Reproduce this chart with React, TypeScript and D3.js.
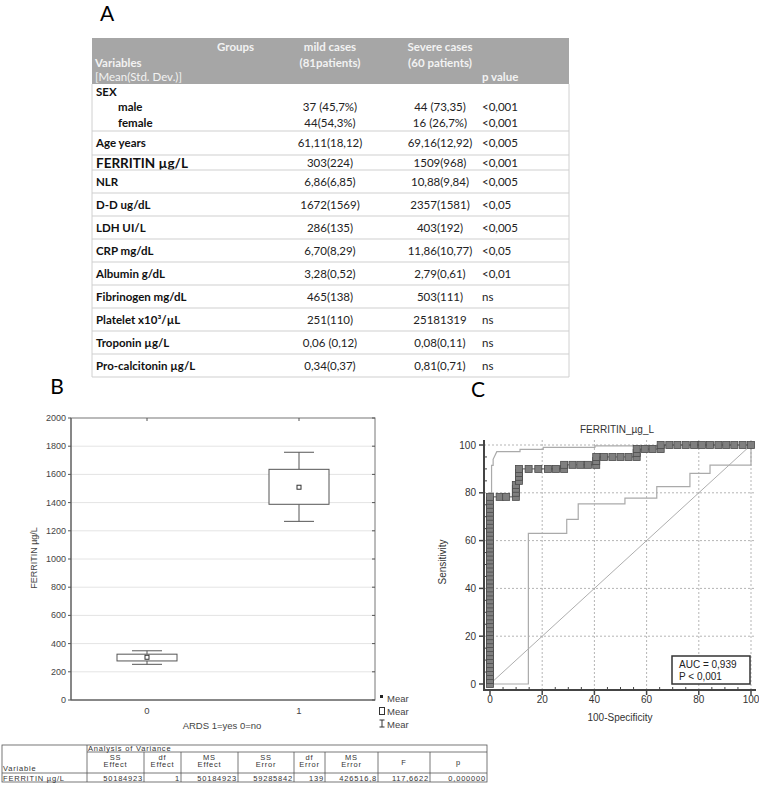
import React from 'react';
import * as d3 from 'd3';

// ---------- Panel A data ----------
const tableVariables = ['SEX', 'male', 'female', 'Age years', 'FERRITIN  µg/L', 'NLR', 'D-D ug/dL', 'LDH UI/L', 'CRP  mg/dL', 'Albumin g/dL', 'Fibrinogen  mg/dL', 'Platelet  x10³/µL', 'Troponin µg/L', 'Pro-calcitonin µg/L'];
const mildValues = ['', '37 (45,7%)', '44(54,3%)', '61,11(18,12)', '303(224)', '6,86(6,85)', '1672(1569)', '286(135)', '6,70(8,29)', '3,28(0,52)', '465(138)', '251(110)', '0,06 (0,12)', '0,34(0,37)'];
const severeValues = ['', '44 (73,35)', '16 (26,7%)', '69,16(12,92)', '1509(968)', '10,88(9,84)', '2357(1581)', '403(192)', '11,86(10,77)', '2,79(0,61)', '503(111)', '25181319', '0,08(0,11)', '0,81(0,71)'];
const pValues = ['', '<0,001', '<0,001', '<0,005', '<0,001', '<0,005', '<0,05', '<0,005', '<0,05', '<0,01', 'ns', 'ns', 'ns', 'ns'];

// ---------- Panel B data ----------
const boxGroups = [0, 1];
const boxMeans = [303, 1509];
const boxLow = [277, 1388];
const boxHigh = [325, 1636];
const whiskerLow = [253, 1267];
const whiskerHigh = [349, 1757];
const boxTicks = [0, 200, 400, 600, 800, 1000, 1200, 1400, 1600, 1800, 2000];

const anovaHeaders = [['SS', 'Effect'], ['df', 'Effect'], ['MS', 'Effect'], ['SS', 'Error'], ['df', 'Error'], ['MS', 'Error'], ['F'], ['p']];
const anovaValues = ['50184923', '1', '50184923', '59285842', '139', '426516,8', '117,6622', '0,000000'];

// ---------- Panel C data ----------
const rocFpr = [
  0, 0, 0, 0, 0, 0, 0, 0, 0, 0, 0, 0, 0, 0, 0, 0, 0, 0, 0, 0, 0, 0, 0, 0, 0, 0, 0, 0, 0, 0, 0, 0, 0, 0, 0, 0, 0, 0, 0, 0, 0, 0, 0, 0, 0, 0, 0, 0,
  3.7, 6.2, 9.9, 9.9, 9.9, 9.9, 11.1, 11.1, 11.1, 11.1,
  14.8, 18.5, 22.2, 25.3, 28.4, 28.4, 31.6, 34.6, 37.5, 40.7, 40.7, 40.7,
  43.7, 46.9, 50.0, 53.1, 56.2, 56.2, 56.2, 59.3, 62.3, 65.4, 65.4,
  68.7, 71.8, 75.0, 78.2, 81.2, 84.3, 87.5, 90.5, 93.6, 96.8, 100,
];
const rocTpr = [
  0, 1.7, 3.3, 5.0, 6.7, 8.3, 10.0, 11.7, 13.3, 15.0, 16.7, 18.3, 20.0, 21.7, 23.3, 25.0, 26.7, 28.3, 30.0, 31.7, 33.3, 35.0, 36.7, 38.3,
  40.0, 41.7, 43.3, 45.0, 46.7, 48.3, 50.0, 51.7, 53.3, 55.0, 56.7, 58.3, 60.0, 61.7, 63.3, 65.0, 66.7, 68.3, 70.0, 71.7, 73.3, 75.0, 76.7, 78.3,
  78.3, 78.3, 78.3, 80.0, 81.7, 83.3, 85.0, 86.7, 88.3, 90.0,
  90.0, 90.0, 90.0, 90.0, 90.0, 91.7, 91.7, 91.7, 91.7, 91.7, 93.3, 95.0,
  95.0, 95.0, 95.0, 95.0, 95.0, 96.7, 98.3, 98.3, 98.3, 98.3, 100,
  100, 100, 100, 100, 100, 100, 100, 100, 100, 100, 100,
];
const ciUpperX = [0, 0, 0.6, 0.6, 1.2, 1.2, 2.6, 11.5, 11.5, 20.4, 20.4, 40.2, 40.2, 65, 65, 100];
const ciUpperY = [0, 80, 80, 91.5, 91.5, 94, 97.2, 97.2, 98.2, 98.2, 99.0, 99.0, 99.6, 99.6, 100, 100];
const ciLowerX = [0, 14.7, 14.7, 29.4, 29.4, 33.8, 33.8, 51.7, 51.7, 63.9, 63.9, 76.6, 76.6, 84.3, 84.3, 100, 100];
const ciLowerY = [0, 0, 63, 63, 68.9, 68.9, 75.4, 75.4, 77.8, 77.8, 82.6, 82.6, 88.1, 88.1, 91.6, 91.6, 100];
const rocTicks = [0, 20, 40, 60, 80, 100];

const CAL = 'Lato, "Open Sans", sans-serif';
const ARIAL = '"Liberation Sans", Arial, sans-serif';

function PanelA() {
  const x0 = 92, x1 = 569;
  const rowTops = [84, 99, 115, 131, 155, 170, 193, 216, 239, 262, 285, 308, 331, 354];
  const rowH = [15, 16, 16, 24, 15, 23, 23, 23, 23, 23, 23, 23, 23, 23];
  const sepAfter = [false, false, true, true, true, true, true, true, true, true, true, true, true, true];
  const bottom = rowTops[rowTops.length - 1] + rowH[rowH.length - 1];
  const hdr = '#f2f2f2';
  const fs = 11.5;
  return (
    <g>
      <text x={107} y={21} fontFamily={CAL} fontSize={21} fill="#000" textAnchor="middle">A</text>
      <rect x={x0} y={38} width={x1 - x0} height={46} fill="#a6a6a6" />
      <text x={217} y={51} fontFamily={CAL} fontWeight="bold" fontSize={fs} fill={hdr}>Groups</text>
      <text x={330} y={51} fontFamily={CAL} fontWeight="bold" fontSize={fs} fill={hdr} textAnchor="middle">mild cases</text>
      <text x={330} y={67} fontFamily={CAL} fontWeight="bold" fontSize={fs} fill={hdr} textAnchor="middle">(81patients)</text>
      <text x={440} y={51} fontFamily={CAL} fontWeight="bold" fontSize={fs} fill={hdr} textAnchor="middle">Severe cases</text>
      <text x={440} y={67} fontFamily={CAL} fontWeight="bold" fontSize={fs} fill={hdr} textAnchor="middle">(60 patients)</text>
      <text x={95} y={67} fontFamily={CAL} fontWeight="bold" fontSize={fs} fill={hdr}>Variables</text>
      <text x={95} y={81} fontFamily={CAL} fontSize={fs} fill={hdr}>[Mean(Std. Dev.)]</text>
      <text x={482} y={81} fontFamily={CAL} fontWeight="bold" fontSize={fs} fill={hdr}>p value</text>
      <line x1={x0} x2={x0} y1={84} y2={bottom} stroke="#d0d0d0" />
      <line x1={x1} x2={x1} y1={84} y2={bottom} stroke="#d0d0d0" />
      {tableVariables.map((v, i) => {
        const top = rowTops[i];
        const base = top + rowH[i] / 2 + 4;
        const indent = i === 1 || i === 2;
        const big = i === 4;
        return (
          <g key={v}>
            <text x={indent ? 118 : 96} y={base + (big ? 1 : 0)} fontFamily={CAL} fontWeight="bold" fontSize={big ? 13.5 : fs} fill="#111">{v}</text>
            <text x={330} y={base} fontFamily={CAL} fontSize={fs} fill="#222" textAnchor="middle">{mildValues[i]}</text>
            <text x={440} y={base} fontFamily={CAL} fontSize={fs} fill="#222" textAnchor="middle">{severeValues[i]}</text>
            <text x={482} y={base} fontFamily={CAL} fontSize={fs} fill="#222">{pValues[i]}</text>
            {sepAfter[i] && <line x1={x0} x2={x1} y1={top + rowH[i]} y2={top + rowH[i]} stroke="#cfcfcf" />}
          </g>
        );
      })}
    </g>
  );
}

function PanelB() {
  const y = d3.scaleLinear().domain([0, 2000]).range([700, 418]);
  const x = d3.scaleLinear().domain([-0.5, 1.5]).range([71, 375]);
  const boxW = 60, capW = 30;
  const cols = [2, 87, 144, 181, 238, 294, 325, 378, 430, 487];
  const tT = 745, r1 = 752, r2 = 773, tB = 782;
  const af = 7.5, ls = 0.8;
  return (
    <g>
      <text x={57} y={394} fontFamily={CAL} fontSize={21} fill="#000" textAnchor="middle">B</text>
      {boxTicks.slice(1, -1).map(t => (
        <line key={t} x1={x(-0.5)} x2={x(1.5)} y1={y(t)} y2={y(t)} stroke="#e4e4e4" />
      ))}
      <rect x={71} y={418} width={304} height={282} fill="none" stroke="#777" />
      <line x1={71} x2={71} y1={418} y2={700} stroke="#555" />
      <line x1={71} x2={375} y1={700} y2={700} stroke="#555" />
      {boxTicks.map(t => (
        <g key={t}>
          <line x1={68} x2={71} y1={y(t)} y2={y(t)} stroke="#555" />
          <line x1={372} x2={375} y1={y(t)} y2={y(t)} stroke="#555" />
          <text x={66} y={y(t) + 3} fontFamily={ARIAL} fontSize={9} fill="#444" textAnchor="end">{t}</text>
        </g>
      ))}
      {boxGroups.map(g => (
        <g key={g}>
          <line x1={x(g)} x2={x(g)} y1={418} y2={421} stroke="#555" />
          <text x={x(g)} y={714} fontFamily={ARIAL} fontSize={9.5} fill="#444" textAnchor="middle">{g}</text>
        </g>
      ))}
      {boxGroups.map((g, i) => (
        <g key={'b' + g} stroke="#555" fill="none">
          <line x1={x(g)} x2={x(g)} y1={y(whiskerHigh[i])} y2={y(boxHigh[i])} />
          <line x1={x(g)} x2={x(g)} y1={y(boxLow[i])} y2={y(whiskerLow[i])} />
          <line x1={x(g) - capW / 2} x2={x(g) + capW / 2} y1={y(whiskerHigh[i])} y2={y(whiskerHigh[i])} />
          <line x1={x(g) - capW / 2} x2={x(g) + capW / 2} y1={y(whiskerLow[i])} y2={y(whiskerLow[i])} />
          <rect x={x(g) - boxW / 2} y={y(boxHigh[i])} width={boxW} height={y(boxLow[i]) - y(boxHigh[i])} fill="#fff" />
          <rect x={x(g) - 2} y={y(boxMeans[i]) - 2} width={4} height={4} fill="#fff" stroke="#333" />
        </g>
      ))}
      <text transform="translate(37,558) rotate(-90)" fontFamily={ARIAL} fontSize={9} fill="#444" textAnchor="middle">FERRITIN µg/L</text>
      <text x={222} y={729} fontFamily={ARIAL} fontSize={9.5} fill="#444" textAnchor="middle">ARDS 1=yes 0=no</text>
      {/* legend */}
      <rect x={380} y={695} width={3} height={3} fill="#222" />
      <text x={387} y={702} fontFamily={ARIAL} fontSize={9.5} fill="#444">Mear</text>
      <rect x={379.5} y={707.5} width={5} height={7} fill="none" stroke="#333" />
      <text x={387} y={715} fontFamily={ARIAL} fontSize={9.5} fill="#444">Mear</text>
      <g stroke="#333">
        <line x1={382} x2={382} y1={720} y2={727} />
        <line x1={379.5} x2={384.5} y1={720} y2={720} />
        <line x1={379.5} x2={384.5} y1={727} y2={727} />
      </g>
      <text x={387} y={728} fontFamily={ARIAL} fontSize={9.5} fill="#444">Mear</text>

      {/* ANOVA table */}
      <g stroke="#555" strokeWidth={0.8} fill="none">
        <rect x={cols[0]} y={tT} width={cols[cols.length - 1] - cols[0]} height={tB - tT} />
        <line x1={cols[1]} x2={cols[cols.length - 1]} y1={r1} y2={r1} />
        <line x1={cols[0]} x2={cols[cols.length - 1]} y1={r2} y2={r2} />
        <line x1={cols[1]} x2={cols[1]} y1={tT} y2={tB} />
        {cols.slice(2, -1).map(c => <line key={c} x1={c} x2={c} y1={r1} y2={tB} />)}
      </g>
      <g fontFamily={ARIAL} fontSize={af} fill="#333" letterSpacing={ls}>
        <text x={cols[1] + 1} y={r1 - 1}>Analysis of Variance</text>
        <text x={cols[0] + 1} y={r2 - 2}>Variable</text>
        {anovaHeaders.map((h, i) => {
          const cx = (cols[i + 1] + cols[i + 2]) / 2;
          return h.length === 2 ? (
            <g key={i}>
              <text x={cx} y={r1 + 7.5} textAnchor="middle">{h[0]}</text>
              <text x={cx} y={r1 + 15} textAnchor="middle">{h[1]}</text>
            </g>
          ) : (
            <text key={i} x={cx} y={r1 + 13} textAnchor="middle">{h[0]}</text>
          );
        })}
        <text x={cols[0] + 1} y={tB - 1.5}>FERRITIN µg/L</text>
        {anovaValues.map((v, i) => (
          <text key={i} x={cols[i + 2] - 1} y={tB - 1.5} textAnchor="end">{v}</text>
        ))}
      </g>
    </g>
  );
}

function PanelC() {
  const x = d3.scaleLinear().domain([0, 100]).range([490, 751]);
  const y = d3.scaleLinear().domain([0, 100]).range([684, 445]);
  const axX = 484, axY = 690;
  const line = d3.line<[number, number]>().x(d => x(d[0])).y(d => y(d[1]));
  const upper = line(ciUpperX.map((v, i) => [v, ciUpperY[i]]));
  const lower = line(ciLowerX.map((v, i) => [v, ciLowerY[i]]));
  const roc = line(rocFpr.map((v, i) => [v, rocTpr[i]]));
  const minor = d3.range(0, 101, 5).filter(v => v % 20 !== 0);
  const ms = 7;
  return (
    <g>
      <text x={478} y={397} fontFamily={CAL} fontSize={21} fill="#000" textAnchor="middle">C</text>
      <text x={617} y={433} fontFamily={ARIAL} fontSize={10} fill="#333" textAnchor="middle">FERRITIN_µg_L</text>
      {rocTicks.slice(1).map(t => (
        <g key={t} stroke="#b5b5b5" strokeDasharray="2,2">
          <line x1={x(t)} x2={x(t)} y1={440} y2={axY} />
          <line x1={axX} x2={756} y1={y(t)} y2={y(t)} />
        </g>
      ))}
      <line x1={x(0)} y1={y(0)} x2={x(100)} y2={y(100)} stroke="#999" strokeWidth={0.8} />
      <path d={upper || ''} fill="none" stroke="#aaa" strokeWidth={1.2} />
      <path d={lower || ''} fill="none" stroke="#aaa" strokeWidth={1.2} />
      <path d={roc || ''} fill="none" stroke="#555" strokeWidth={1} />
      {rocFpr.map((v, i) => (
        <rect key={i} x={x(v) - ms / 2} y={y(rocTpr[i]) - ms / 2} width={ms} height={ms} fill="#7f7f7f" stroke="#4a4a4a" strokeWidth={0.8} />
      ))}
      <line x1={axX} x2={axX} y1={440} y2={axY + 1} stroke="#444" strokeWidth={2} />
      <line x1={axX - 1} x2={756} y1={axY} y2={axY} stroke="#444" strokeWidth={2} />
      {rocTicks.map(t => (
        <g key={t}>
          <line x1={axX - 5} x2={axX} y1={y(t)} y2={y(t)} stroke="#444" strokeWidth={1.5} />
          <line x1={x(t)} x2={x(t)} y1={axY} y2={axY + 5} stroke="#444" strokeWidth={1.5} />
          <text x={476} y={y(t) + 3.5} fontFamily={ARIAL} fontSize={10} fill="#333" textAnchor="end">{t}</text>
          <text x={x(t)} y={703} fontFamily={ARIAL} fontSize={10} fill="#333" textAnchor="middle">{t}</text>
        </g>
      ))}
      {minor.map(t => (
        <g key={'m' + t} stroke="#444">
          <line x1={axX} x2={axX + 3} y1={y(t)} y2={y(t)} />
          <line x1={x(t)} x2={x(t)} y1={axY - 3} y2={axY} />
        </g>
      ))}
      <text transform="translate(446,562) rotate(-90)" fontFamily={ARIAL} fontSize={10} fill="#333" textAnchor="middle">Sensitivity</text>
      <text x={620} y={721} fontFamily={ARIAL} fontSize={10} fill="#333" textAnchor="middle">100-Specificity</text>
      <rect x={672} y={656} width={78} height={28} fill="#fff" stroke="#333" strokeWidth={1.5} />
      <text x={679} y={668} fontFamily={ARIAL} fontSize={10} fill="#222">AUC = 0,939</text>
      <text x={679} y={680} fontFamily={ARIAL} fontSize={10} fill="#222">P &lt; 0,001</text>
    </g>
  );
}

export default function App() {
  return (
    <svg width={759} height={787} viewBox="0 0 759 787" style={{ position: 'absolute', left: 0, top: 0, background: '#fff' }}>
      <rect width={759} height={787} fill="#fff" />
      <PanelA />
      <PanelB />
      <PanelC />
    </svg>
  );
}
